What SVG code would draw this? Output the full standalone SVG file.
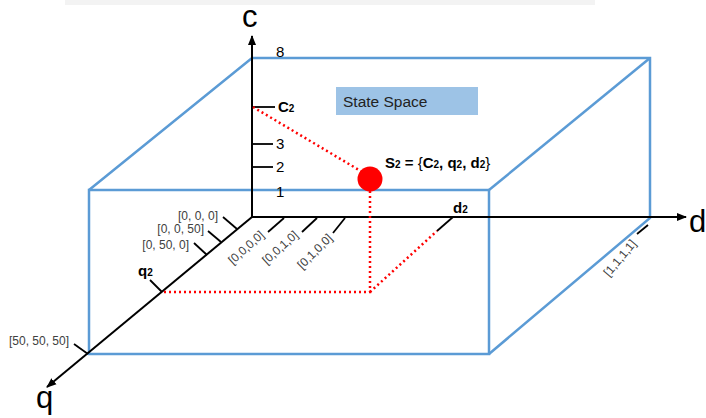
<svg xmlns="http://www.w3.org/2000/svg" width="706" height="418" viewBox="0 0 706 418">
<defs>
<marker id="ah" markerWidth="10" markerHeight="10" refX="9" refY="5" orient="auto" markerUnits="userSpaceOnUse">
<path d="M0,1 L10,5 L0,9 Z" fill="#000"/>
</marker>
<style>
text{font-family:"Liberation Sans",Arial,sans-serif;}
.box{fill:none;stroke:#5B9BD5;stroke-width:2.5;stroke-linejoin:miter;}
.ax{stroke:#000;stroke-width:2;fill:none;}
.tk{stroke:#000;stroke-width:1.8;}
.red{stroke:#FF0000;stroke-width:2.5;stroke-dasharray:2 3;fill:none;}
.num{font-size:15px;fill:#000;}
.lab{font-size:12px;fill:#404040;}
.big{font-size:31px;fill:#000;}
.b{font-size:15px;font-weight:bold;fill:#000;}
.sub{font-size:10px;}
</style>
</defs>
<rect x="65" y="0" width="530" height="5" fill="#f3f3f3"/>

<g id="box">
<path class="box" d="M89,190 H489 V354 H89 Z"/>
<path class="box" d="M89,190 L252,58 H650 V218 L489,354"/>
<path class="box" d="M489,190 L650,58"/>
</g>

<g id="connectors">
<line class="ax" x1="252" y1="217" x2="252" y2="36" marker-end="url(#ah)"/>
<line class="ax" x1="252" y1="217" x2="686" y2="217" marker-end="url(#ah)"/>
<line class="ax" x1="252" y1="217" x2="47" y2="387" marker-end="url(#ah)"/>
<line class="tk" x1="252" y1="107" x2="275" y2="107"/>
<line class="tk" x1="252" y1="144" x2="273" y2="144"/>
<line class="tk" x1="252" y1="167" x2="273" y2="167"/>
<line class="tk" x1="223" y1="217" x2="237" y2="229"/>
<line class="tk" x1="208" y1="231" x2="221" y2="242"/>
<line class="tk" x1="194" y1="243" x2="207" y2="255"/>
<line class="tk" x1="150" y1="280" x2="162" y2="292"/>
<line class="tk" x1="74" y1="344" x2="88" y2="354"/>
<line class="tk" x1="268" y1="232" x2="284" y2="218"/>
<line class="tk" x1="302" y1="232" x2="317" y2="218"/>
<line class="tk" x1="333" y1="233" x2="345" y2="218"/>
<line class="tk" x1="453" y1="217" x2="437" y2="231"/>
<line class="tk" x1="637" y1="234" x2="648" y2="225" stroke-width="1.2"/>
<path class="red" d="M253,107 L364,173"/>
<path class="red" d="M370,191 V292 H163"/>
<path class="red" d="M370,292 L437,231"/>
</g>

<g id="state-point">
<circle cx="370" cy="179" r="12.5" fill="#FF0000"/>
<text class="b" x="385" y="168">S<tspan class="sub">2</tspan> = <tspan font-weight="normal">{</tspan>C<tspan class="sub">2</tspan>, q<tspan class="sub">2</tspan>, d<tspan class="sub">2</tspan><tspan font-weight="normal">}</tspan></text>
</g>

<g id="state-space">
<rect x="336" y="87" width="142" height="28" fill="#9DC3E6"/>
<text x="343" y="107" font-size="15.5" fill="#222">State Space</text>
</g>

<g id="axis-labels">
<text class="big" x="242" y="27" font-size="29">c</text>
<text class="big" x="689" y="232">d</text>
<text class="big" x="36" y="408">q</text>
</g>

<g id="c-labels">
<text class="num" x="276" y="57">8</text>
<text class="b" x="278" y="112">C<tspan class="sub">2</tspan></text>
<text class="num" x="276" y="149">3</text>
<text class="num" x="276" y="172">2</text>
<text class="num" x="276" y="197">1</text>
</g>

<g id="q-labels">
<text class="lab" x="218" y="220" text-anchor="end">[0, 0, 0]</text>
<text class="lab" x="204" y="233" text-anchor="end">[0, 0, 50]</text>
<text class="lab" x="189" y="249" text-anchor="end">[0, 50, 0]</text>
<text class="lab" x="69" y="345" text-anchor="end">[50, 50, 50]</text>
<text class="b" x="138" y="276">q<tspan class="sub">2</tspan></text>
</g>

<g id="d-labels">
<text class="lab" font-size="13" transform="translate(265,236) rotate(-42)" text-anchor="end">[0,0,0,0]</text>
<text class="lab" font-size="13" transform="translate(299,236) rotate(-42)" text-anchor="end">[0,0,1,0]</text>
<text class="lab" font-size="13" transform="translate(333,239) rotate(-45)" text-anchor="end">[0,1,0,0]</text>
<text class="lab" font-size="10" fill="#222" transform="translate(637,244) rotate(-50)" text-anchor="end">[1,1,1,1]</text>
<text class="b" x="453" y="213">d<tspan class="sub">2</tspan></text>
</g>
</svg>
